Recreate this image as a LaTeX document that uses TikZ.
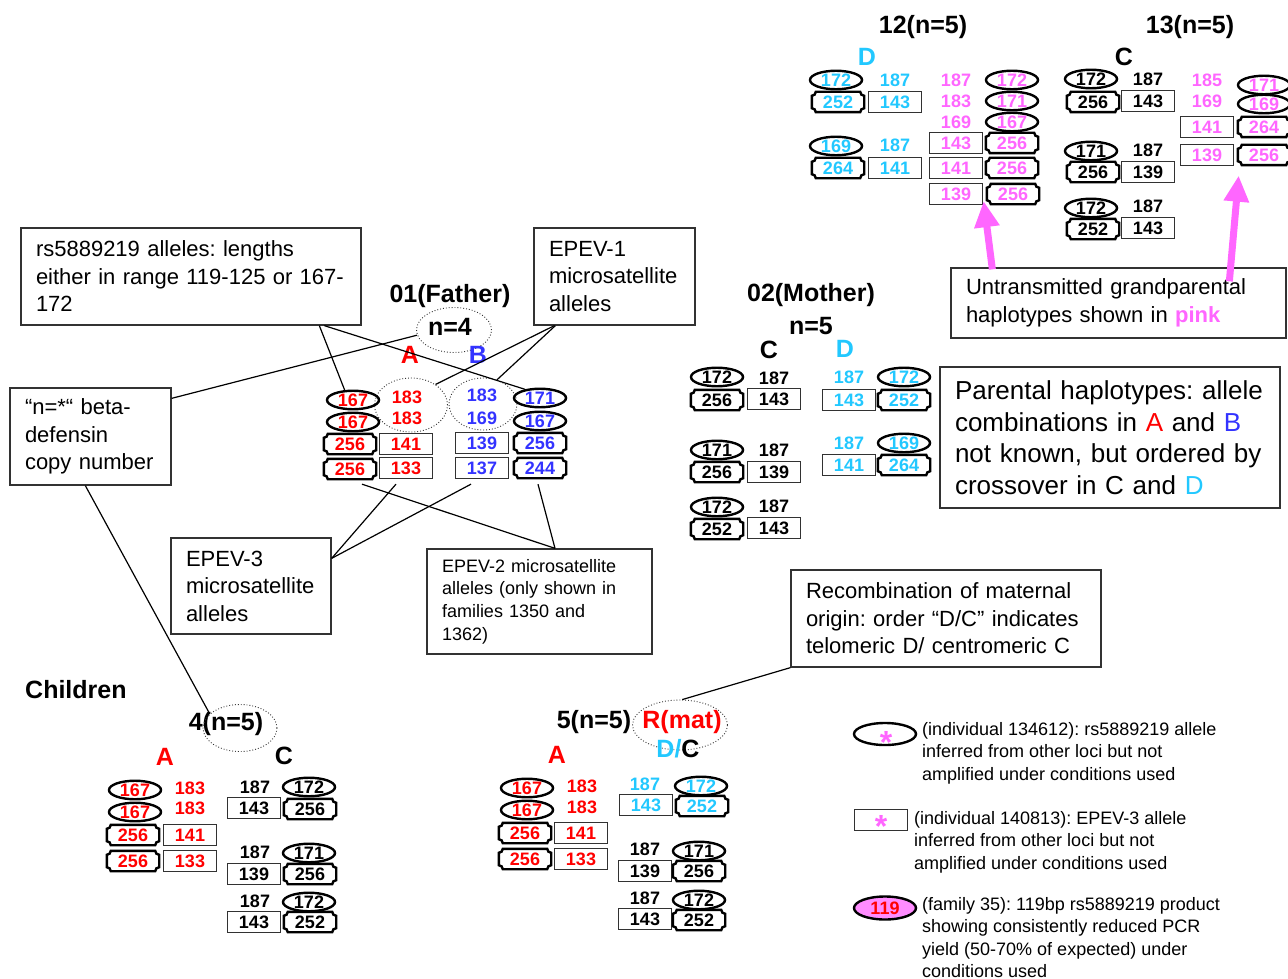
\documentclass[tikz,border=0pt]{standalone}
\usepackage{fontspec}
\setmainfont{Liberation Sans}
\usetikzlibrary{shapes.geometric,arrows.meta,calc}
\frenchspacing
\definecolor{cred}{RGB}{255,0,0}
\definecolor{cblue}{RGB}{51,51,255}
\definecolor{ccyan}{RGB}{34,200,255}
\definecolor{cpink}{RGB}{255,102,255}
\definecolor{cpinkfill}{RGB}{255,140,255}
\definecolor{cgray}{RGB}{50,50,50}
\tikzset{
  numfont/.style={font=\bfseries\fontsize{18}{20}\selectfont},
  num/.style={numfont, inner sep=0pt},
  ttl/.style={font=\bfseries\fontsize{25}{30}\selectfont, inner sep=0pt},
  ellb/.style={ellipse, draw=black, line width=2.4pt, minimum width=52pt, minimum height=18.5pt, inner sep=0pt, numfont},
  rctb/.style={rectangle, draw=cgray, line width=1.3pt, minimum width=53pt, minimum height=21pt, inner sep=0pt, numfont},
  tktb/.style={rectangle, minimum width=52pt, minimum height=20pt, inner sep=0pt, numfont},
  tktline/.style={line width=2.4pt, draw=black},
  dotell/.style={ellipse, draw=black!80, dotted, line width=0.9pt, inner sep=0pt},
  conn/.style={line width=1.2pt, draw=black},
  tbox/.style={draw=cgray, line width=1.3pt, inner xsep=15pt, inner ysep=0pt, align=left},
  legtxt/.style={inner sep=0pt, align=left, anchor=north west, font=\fontsize{18}{22.5}\selectfont},
  parrow/.style={draw=cpink, line width=7pt, -{Triangle[width=24pt,length=26pt]}},
}
\newcommand\Ael[5]{\node[ellb,text=#5] (#1) at (#2,#3) {#4};}
\newcommand\Art[5]{\node[rctb,text=#5] (#1) at (#2,#3) {#4};}
\newcommand\Anu[5]{\node[num,text=#5] (#1) at (#2,#3) {#4};}
\newcommand\Atk[5]{\node[tktb,text=#5] (#1) at (#2,#3) {#4};
  \draw[tktline] ([xshift=4pt]#1.north west) -- ([xshift=-4pt]#1.north east)
    arc[start angle=180,end angle=270,radius=4pt] -- ([yshift=4pt]#1.south east)
    arc[start angle=90,end angle=180,radius=4pt] -- ([xshift=4pt]#1.south west)
    arc[start angle=0,end angle=90,radius=4pt] -- ([yshift=-4pt]#1.north west)
    arc[start angle=270,end angle=360,radius=4pt] -- cycle;}
\begin{document}
\begin{tikzpicture}[x=1pt,y=-1pt]
\useasboundingbox (0,0) rectangle (1288,979);
\fill[white] (0,0) rectangle (1288,979);

% ---------------- text boxes ----------------
\node[tbox, font=\fontsize{22}{27.5}\selectfont, text width=310pt, minimum height=97pt] (rs) at (191,276.5)
  {\mbox{rs5889219 alleles: lengths}\\\mbox{either in range 119-125 or 167-}\\\mbox{172}};
\node[tbox, font=\fontsize{22}{27.5}\selectfont, text width=131pt, minimum height=97pt] (nstar) at (90.5,436.5)
  {\mbox{“n=*“ beta-}\\\mbox{defensin}\\\mbox{copy number}};
\node[tbox, font=\fontsize{22}{27.5}\selectfont, text width=131pt, minimum height=97pt] (epev1) at (614.5,276.5)
  {\mbox{EPEV-1}\\\mbox{microsatellite}\\\mbox{alleles}};
\node[tbox, font=\fontsize{22}{27.5}\selectfont, text width=130pt, minimum height=96pt] (epev3) at (251,586)
  {\mbox{EPEV-3}\\\mbox{microsatellite}\\\mbox{alleles}};
\node[tbox, font=\fontsize{18}{22.7}\selectfont, text width=195pt, minimum height=105pt] (epev2) at (539.5,601.5)
  {\mbox{EPEV-2 microsatellite}\\\mbox{alleles (only shown in}\\\mbox{families 1350 and}\\\mbox{1362)}};
\node[tbox, font=\fontsize{26}{31.5}\selectfont, text width=310pt, minimum height=141pt] (parental) at (1110,437.5)
  {\mbox{Parental haplotypes: allele}\\\mbox{combinations in \textcolor{cred}{A} and \textcolor{cblue}{B}}\\\mbox{not known, but ordered by}\\\mbox{crossover in C and \textcolor{ccyan}{D}}};
\node[tbox, font=\fontsize{22}{27.5}\selectfont, text width=280pt, minimum height=97pt] (recomb) at (946,618.5)
  {\mbox{Recombination of maternal}\\\mbox{origin: order “D/C” indicates}\\\mbox{telomeric D/ centromeric C}};
\node[tbox, font=\fontsize{22}{28}\selectfont, text width=305pt, minimum height=70pt] (untrans) at (1118.5,303)
  {\mbox{Untransmitted grandparental}\\\mbox{haplotypes shown in \textbf{\textcolor{cpink}{pink}}}};

% ---------------- Father ----------------
\node[ttl] (ftitle) at (450,296) {01(Father)};
\node[ttl] (fn) at (450,327) {n=4};
\node[dotell, minimum width=75pt, minimum height=45pt] (fnell) at (454,330) {};
\node[ttl, text=cred] (fA) at (410,355) {A};
\node[ttl, text=cblue] (fB) at (478,355) {B};
\node[dotell, minimum width=73pt, minimum height=54pt] (fAell) at (411,405) {};
\node[dotell, minimum width=68pt, minimum height=52pt] (fBell) at (483,404) {};
\Ael{fe1}{353}{400}{167}{cred}
\Ael{fe2}{353}{422}{167}{cred}
\Atk{ft1}{350}{444}{256}{cred}
\Atk{ft2}{350}{469}{256}{cred}
\Anu{fn1}{407}{397}{183}{cred}
\Anu{fn2}{407}{418}{183}{cred}
\Art{fr1}{406}{444}{141}{cred}
\Art{fr2}{406}{468}{133}{cred}
\Anu{fn3}{482}{395}{183}{cblue}
\Anu{fn4}{482}{418}{169}{cblue}
\Art{fr3}{482}{443}{139}{cblue}
\Art{fr4}{482}{468}{137}{cblue}
\Ael{fe3}{540}{398}{171}{cblue}
\Ael{fe4}{540}{421}{167}{cblue}
\Atk{ft3}{540}{443}{256}{cblue}
\Atk{ft4}{540}{468}{244}{cblue}

% ---------------- Mother ----------------
\node[ttl] (mtitle) at (811,295) {02(Mother)};
\node[ttl] (mn) at (811,326) {n=5};
\node[ttl] (mC) at (769,350) {C};
\node[ttl, text=ccyan] (mD) at (845,349) {D};
\Ael{me1}{717}{377}{172}{black}
\Anu{mn1}{774}{378}{187}{black}
\Atk{mt1}{717}{400}{256}{black}
\Art{mr1}{774}{399}{143}{black}
\Ael{me2}{717}{450}{171}{black}
\Anu{mn2}{774}{450}{187}{black}
\Atk{mt2}{717}{472}{256}{black}
\Art{mr2}{774}{472}{139}{black}
\Ael{me3}{717}{507}{172}{black}
\Anu{mn3}{774}{506}{187}{black}
\Atk{mt3}{717}{529}{252}{black}
\Art{mr3}{774}{528}{143}{black}
\Anu{mn4}{849}{377}{187}{ccyan}
\Ael{me4}{904}{377}{172}{ccyan}
\Art{mr4}{849}{400}{143}{ccyan}
\Atk{mt4}{904}{400}{252}{ccyan}
\Anu{mn5}{849}{443}{187}{ccyan}
\Ael{me5}{904}{443}{169}{ccyan}
\Art{mr5}{849}{465}{141}{ccyan}
\Atk{mt5}{904}{465}{264}{ccyan}

% ---------------- 12(n=5) ----------------
\node[ttl] (atitle) at (923,27) {12(n=5)};
\node[ttl, text=ccyan] (aD) at (867,57) {D};
\Ael{ae1}{836}{80}{172}{ccyan}
\Anu{an1}{895}{80}{187}{ccyan}
\Atk{at1}{838}{102}{252}{ccyan}
\Art{ar1}{895}{102}{143}{ccyan}
\Ael{ae2}{836}{146}{169}{ccyan}
\Anu{an2}{895}{145}{187}{ccyan}
\Atk{at2}{838}{168}{264}{ccyan}
\Art{ar2}{895}{168}{141}{ccyan}
\Anu{an3}{956}{80}{187}{cpink}
\Anu{an4}{956}{101}{183}{cpink}
\Anu{an5}{956}{122}{169}{cpink}
\Art{ar3}{956}{143}{143}{cpink}
\Art{ar4}{956}{168}{141}{cpink}
\Art{ar5}{956}{194}{139}{cpink}
\Ael{ae3}{1012}{80}{172}{cpink}
\Ael{ae4}{1012}{101}{171}{cpink}
\Ael{ae5}{1012}{122}{167}{cpink}
\Atk{at3}{1012}{143}{256}{cpink}
\Atk{at4}{1012}{168}{256}{cpink}
\Atk{at5}{1013}{194}{256}{cpink}

% ---------------- 13(n=5) ----------------
\node[ttl] (btitle) at (1190,27) {13(n=5)};
\node[ttl] (bC) at (1124,57) {C};
\Ael{be1}{1091}{79}{172}{black}
\Anu{bn1}{1148}{79}{187}{black}
\Atk{bt1}{1093}{102}{256}{black}
\Art{br1}{1148}{101}{143}{black}
\Ael{be2}{1091}{151}{171}{black}
\Anu{bn2}{1148}{150}{187}{black}
\Atk{bt2}{1093}{172}{256}{black}
\Art{br2}{1148}{172}{139}{black}
\Ael{be3}{1091}{208}{172}{black}
\Anu{bn3}{1148}{206}{187}{black}
\Atk{bt3}{1093}{229}{252}{black}
\Art{br3}{1148}{228}{143}{black}
\Anu{bn4}{1207}{80}{185}{cpink}
\Anu{bn5}{1207}{101}{169}{cpink}
\Art{br4}{1207}{127}{141}{cpink}
\Art{br5}{1207}{155}{139}{cpink}
\Ael{be4}{1264}{85}{171}{cpink}
\Ael{be5}{1264}{104}{169}{cpink}
\Atk{bt4}{1264}{127}{264}{cpink}
\Atk{bt5}{1264}{155}{256}{cpink}

% ---------------- Children ----------------
\node[ttl, anchor=west] (children) at (25,690) {Children};

% child 4
\node[ttl] (c4title) at (226,724) {4(n=5)};
\node[dotell, minimum width=74pt, minimum height=47pt] (c4ell) at (240,728) {};
\node[ttl, text=cred] (cA) at (165,757) {A};
\node[ttl] (cC) at (284,756) {C};
\Ael{ce1}{135}{790}{167}{cred}
\Anu{cn1}{190}{788}{183}{cred}
\Ael{ce2}{135}{812}{167}{cred}
\Anu{cn2}{190}{808}{183}{cred}
\Atk{ct1}{133}{835}{256}{cred}
\Art{cr1}{190}{835}{141}{cred}
\Atk{ct2}{133}{861}{256}{cred}
\Art{cr2}{190}{861}{133}{cred}
\Anu{cn3}{255}{787}{187}{black}
\Ael{ce3}{309}{787}{172}{black}
\Art{cr3}{254}{808}{143}{black}
\Atk{ct3}{310}{809}{256}{black}
\Anu{cn4}{255}{852}{187}{black}
\Ael{ce4}{309}{853}{171}{black}
\Art{cr4}{254}{874}{139}{black}
\Atk{ct4}{310}{874}{256}{black}
\Anu{cn5}{255}{901}{187}{black}
\Ael{ce5}{309}{902}{172}{black}
\Art{cr5}{254}{922}{143}{black}
\Atk{ct5}{310}{922}{252}{black}

% child 5
\node[ttl] (c5title) at (594,722) {5(n=5)};
\node[ttl, text=cred] (rmat) at (682,722) {R(mat)};
\node[dotell, minimum width=95pt, minimum height=50pt] (rmell) at (680,725) {};
\node[ttl] (dc) at (678,749) {\textcolor{ccyan}{D/}C};
\node[ttl, text=cred] (dA) at (557,755) {A};
\Ael{de1}{527}{788}{167}{cred}
\Anu{dn1}{582}{786}{183}{cred}
\Ael{de2}{527}{810}{167}{cred}
\Anu{dn2}{582}{807}{183}{cred}
\Atk{dt1}{525}{833}{256}{cred}
\Art{dr1}{581}{833}{141}{cred}
\Atk{dt2}{525}{859}{256}{cred}
\Art{dr2}{581}{859}{133}{cred}
\Anu{dn3}{645}{784}{187}{ccyan}
\Ael{de3}{701}{786}{172}{ccyan}
\Art{dr3}{646}{805}{143}{ccyan}
\Atk{dt3}{702}{806}{252}{ccyan}
\Anu{dn4}{645}{849}{187}{black}
\Ael{de4}{699}{851}{171}{black}
\Art{dr4}{645}{871}{139}{black}
\Atk{dt4}{699}{871}{256}{black}
\Anu{dn5}{645}{898}{187}{black}
\Ael{de5}{699}{900}{172}{black}
\Art{dr5}{645}{919}{143}{black}
\Atk{dt5}{699}{920}{252}{black}

% ---------------- Legend ----------------
\node[ellb, minimum width=62pt, minimum height=22pt] (lg1) at (885,734) {};
\node[inner sep=0pt, text=cpink, font=\bfseries\fontsize{32}{32}\selectfont] (lg1s) at (886,742) {*};
\node[legtxt] (lg1t) at (922,722) {(individual 134612): rs5889219 allele\\inferred from other loci but not\\amplified under conditions used};
\node[rctb] (lg2) at (881,820) {};
\node[inner sep=0pt, text=cpink, font=\bfseries\fontsize{32}{32}\selectfont] (lg2s) at (881,826) {*};
\node[legtxt] (lg2t) at (914,811) {(individual 140813): EPEV-3 allele\\inferred from other loci but not\\amplified under conditions used};
\node[ellb, fill=cpinkfill, text=cred, minimum width=62pt, minimum height=23pt] (lg3) at (885,908) {119};
\node[legtxt] (lg3t) at (922,897) {(family 35): 119bp rs5889219 product\\showing consistently reduced PCR\\yield (50-70\% of expected) under\\conditions used};

% ---------------- connectors ----------------
\draw[conn] ([xshift=299pt]rs.south west) -- (fe1.130);
\draw[conn] ([xshift=304pt]rs.south west) -- (fe3.150);
\draw[conn] ([yshift=-11pt]nstar.north east) -- (fnell.188);
\draw[conn] ([xshift=76pt]nstar.south west) -- (c4ell.155);
\draw[conn] ([xshift=21pt]epev1.south west) -- (fAell.40);
\draw[conn] ([xshift=22pt]epev1.south west) -- (fBell.60);
\draw[conn] ([yshift=-21pt]epev3.north east) -- ([xshift=-10pt,yshift=-5pt]fr2.south);
\draw[conn] ([yshift=-21pt]epev3.north east) -- ([xshift=-11pt,yshift=-5pt]fr4.south);
\draw[conn] ([xshift=15.5pt]epev2.north) -- ([xshift=12pt,yshift=-5pt]ft2.south);
\draw[conn] ([xshift=15.5pt]epev2.north) -- ([xshift=-2pt,yshift=-6pt]ft4.south);
\draw[conn] (recomb.south west) -- (rmell.85);

% pink arrows
\draw[parrow] ([xshift=42pt,yshift=-2pt]untrans.north west) -- ([xshift=0.5pt,yshift=4pt]ar5.south east);
\draw[parrow] ([xshift=279pt,yshift=-14pt]untrans.north west) -- ([xshift=4.5pt,yshift=-9.5pt]br5.south east);
\end{tikzpicture}
\end{document}
